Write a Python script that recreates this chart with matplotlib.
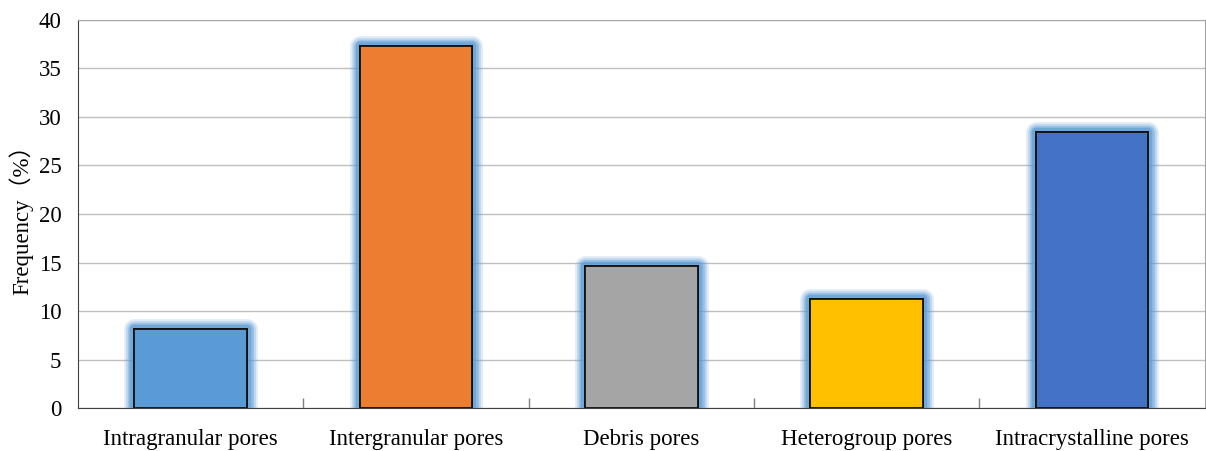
import numpy as np
import matplotlib
matplotlib.use("Agg")
import matplotlib.pyplot as plt
import matplotlib.patheffects as pe

categories = ["Intragranular pores", "Intergranular pores", "Debris pores",
              "Heterogroup pores", "Intracrystalline pores"]
values = [8.1, 37.3, 14.6, 11.2, 28.5]
colors = ["#5B9BD5", "#ED7D31", "#A5A5A5", "#FFC000", "#4472C4"]

plt.rcParams['font.family'] = ['Liberation Serif', 'Noto Sans CJK SC']

fig = plt.figure(figsize=(12.06, 4.51), dpi=100)
ax = fig.add_axes([0.0647, 0.0953, 0.9343, 0.8604])

x = np.arange(len(categories))
# soft blue glow around each bar
glow = [pe.withStroke(linewidth=w, foreground="#5B9BD5", alpha=a, joinstyle='round')
        for w, a in [(15, 0.18), (12, 0.28), (9, 0.42), (6, 0.6)]]
bars = ax.bar(x, values, width=0.5, color=colors, edgecolor="#111111",
              linewidth=1.3, zorder=3)
for b in bars:
    b.set_path_effects(glow + [pe.Normal()])

ax.set_xlim(-0.5, len(categories) - 0.5)
ax.set_ylim(0, 40)
ax.set_yticks(np.arange(0, 41, 5))
ax.yaxis.grid(True, color="#BFBFBF", linewidth=1.0, zorder=0)
ax.tick_params(axis='y', length=0, labelsize=16.5, pad=12)

ax.set_xticks(x)
ax.set_xticklabels(categories, fontsize=16.5)
ax.tick_params(axis='x', length=0, pad=15)
ax.set_xticks(np.arange(0.5, len(categories) - 1, 1), minor=True)
ax.tick_params(axis='x', which='minor', direction='in', length=7,
               color="#7F7F7F", width=1)

for s in ["left", "bottom"]:
    ax.spines[s].set_color("#404040")
for s in ["top", "right"]:
    ax.spines[s].set_color("#A6A6A6")

ax.set_ylabel("Frequency（%）", fontsize=16.5, labelpad=4)

fig.savefig("out.png", dpi=100)
